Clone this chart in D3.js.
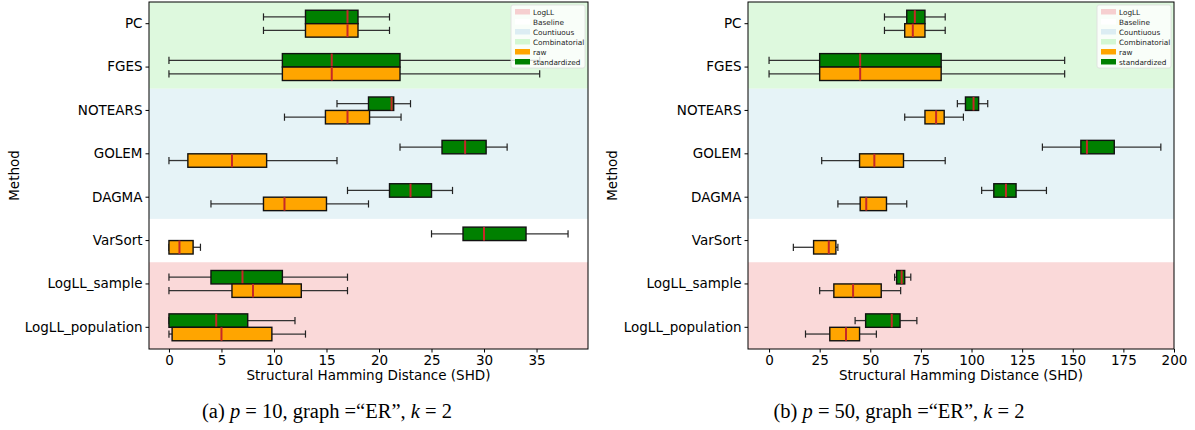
<!DOCTYPE html>
<html>
<head>
<meta charset="utf-8">
<script src="https://cdn.jsdelivr.net/npm/d3@7"></script>
<style>
  body { margin: 0; background: #fff; }
  svg text { font-family: "DejaVu Sans", sans-serif; }
  .cap { font-family: "Liberation Serif", serif; }
</style>
</head>
<body>
<script>
// Methods, top to bottom
const methods = ["PC", "FGES", "NOTEARS", "GOLEM", "DAGMA", "VarSort", "LogLL_sample", "LogLL_population"];

// box stats: [min, q1, median, q3, max]  (null = not drawn)
const p10Raw = [
  [9, 13, 17, 18, 21], [0, 10.8, 15.5, 22, 35.3], [11, 14.9, 17, 19.1, 22.1], [0, 1.8, 6, 9.3, 16],
  [4, 9, 11, 15, 19], [0, 0, 1, 2.3, 3], [0, 6, 8, 12.6, 17], [0, 0.3, 5, 9.8, 13]
];
const p10Std = [
  [9, 13, 17, 18, 21], [0, 10.8, 15.5, 22, 35.3], [16, 19, 21.2, 21.4, 23], [22, 26, 28.2, 30.2, 32.2],
  [17, 21, 23, 25, 27], [25, 28, 30, 34, 38], [0, 4, 7, 10.8, 17], [0, 0, 4.5, 7.5, 12]
];
const p50Raw = [
  [57, 67, 71, 77, 87], [0, 25, 45, 85, 146], [67, 77, 82.5, 86.5, 96], [26, 44.7, 52, 66.4, 87],
  [34, 45, 48, 58, 68], [12, 22, 29.5, 33, 34], [25, 32, 41.5, 55.4, 65], [18, 30, 38, 44.7, 53]
];
const p50Std = [
  [57, 68, 72, 77, 87], [0, 25, 45, 85, 146], [93, 97, 101, 103.5, 108], [135, 154, 157, 170.5, 193.5],
  [105, 111, 117, 122, 137], null, [62, 63, 65.5, 67, 70], [42.5, 47.7, 60.6, 64.7, 73]
];

const ticks10 = [0, 5, 10, 15, 20, 25, 30, 35];
const ticks50 = [0, 25, 50, 75, 100, 125, 150, 175, 200];

// background groups: [first method, last method, colour]
const groups = [
  ["PC", "FGES", "#def9de"],
  ["NOTEARS", "DAGMA", "#e6f3f7"],
  ["LogLL_sample", "LogLL_population", "#fad9d9"]
];
const legendItems = [
  ["LogLL", "#f6cfd0"], ["Baseline", "#ffffff"], ["Countiuous", "#dcedf3"],
  ["Combinatorial", "#d3f7d3"], ["raw", "#ffa500"], ["standardized", "#008000"]
];

const panels = [
  { left: 149, right: 588, xdom: [-1.9, 39.9], ticks: ticks10, raw: p10Raw, std: p10Std,
    ylab: 14, capX: 327, cap: ["(a) ", "p", " = 10, graph =“ER”, ", "k", " = 2"] },
  { left: 748, right: 1174, xdom: [-10.4, 200], ticks: ticks50, raw: p50Raw, std: p50Std,
    ylab: 612, capX: 899, cap: ["(b) ", "p", " = 50, graph =“ER”, ", "k", " = 2"] }
];

const topY = 2, bottomY = 349;
const svg = d3.select("body").append("svg").attr("width", 1195).attr("height", 430);

panels.forEach(p => {
  const x = d3.scaleLinear().domain(p.xdom).range([p.left, p.right]);
  const y = d3.scaleBand().domain(methods).range([topY, bottomY]);
  const bw = y.bandwidth();
  const g = svg.append("g");

  // group bands
  groups.forEach(gr => {
    g.append("rect")
      .attr("x", p.left).attr("width", p.right - p.left)
      .attr("y", y(gr[0])).attr("height", y(gr[1]) + bw - y(gr[0]))
      .attr("fill", gr[2]);
  });

  // boxes: standardized above, raw below
  const boxH = bw * 0.31, off = bw * 0.155;
  const series = [[p.std, "#008000", -off], [p.raw, "#ffa500", off]];
  series.forEach(([vals, col, dy]) => {
    vals.forEach((s, i) => {
      if (!s) return;
      const cy = y(methods[i]) + bw / 2 + dy;
      const bg = g.append("g");
      const wh = [[s[0], s[1]], [s[3], s[4]]];
      wh.forEach(w => {
        bg.append("line").attr("x1", x(w[0])).attr("x2", x(w[1]))
          .attr("y1", cy).attr("y2", cy).attr("stroke", "#333").attr("stroke-width", 1.3);
      });
      [s[0], s[4]].forEach(v => {
        bg.append("line").attr("x1", x(v)).attr("x2", x(v))
          .attr("y1", cy - 3.6).attr("y2", cy + 3.6).attr("stroke", "#222").attr("stroke-width", 1.2);
      });
      bg.append("rect").attr("x", x(s[1])).attr("width", x(s[3]) - x(s[1]))
        .attr("y", cy - boxH / 2).attr("height", boxH)
        .attr("fill", col).attr("stroke", "#111").attr("stroke-width", 1.4);
      bg.append("line").attr("x1", x(s[2])).attr("x2", x(s[2]))
        .attr("y1", cy - boxH / 2).attr("y2", cy + boxH / 2)
        .attr("stroke", "#c62828").attr("stroke-width", 2);
    });
  });

  // frame
  g.append("rect").attr("x", p.left).attr("y", topY)
    .attr("width", p.right - p.left).attr("height", bottomY - topY)
    .attr("fill", "none").attr("stroke", "#000").attr("stroke-width", 1);

  // axes
  const xa = g.append("g").attr("transform", `translate(0,${bottomY})`)
    .call(d3.axisBottom(x).tickValues(p.ticks).tickSize(3.5).tickPadding(3));
  xa.select(".domain").remove();
  xa.selectAll("text").attr("font-size", 13.5).attr("fill", "#000");
  const ya = g.append("g").attr("transform", `translate(${p.left},0)`)
    .call(d3.axisLeft(y).tickSize(3.5).tickPadding(3));
  ya.select(".domain").remove();
  ya.selectAll("text").attr("font-size", 13.5).attr("fill", "#000");

  g.append("text").attr("x", (p.left + p.right) / 2).attr("y", 380)
    .attr("text-anchor", "middle").attr("font-size", 13.5).text("Structural Hamming Distance (SHD)");
  g.append("text").attr("transform", `translate(${p.ylab + 5},${(topY + bottomY) / 2}) rotate(-90)`)
    .attr("text-anchor", "middle").attr("font-size", 13.5).text("Method");

  // legend
  const lx = p.right - 77, ly = 5;
  const lg = g.append("g").attr("transform", `translate(${lx},${ly})`);
  lg.append("rect").attr("width", 74).attr("height", 63).attr("rx", 2)
    .attr("fill", "#fff").attr("fill-opacity", 0.8).attr("stroke", "#ddd").attr("stroke-width", 0.8);
  legendItems.forEach((it, i) => {
    lg.append("rect").attr("x", 4).attr("y", 4 + i * 10).attr("width", 15).attr("height", 5.5).attr("fill", it[1]);
    lg.append("text").attr("x", 22).attr("y", 9.5 + i * 10).attr("font-size", 7.3).attr("fill", "#222").text(it[0]);
  });

  // caption
  const cap = svg.append("text").attr("class", "cap").attr("x", p.capX).attr("y", 418)
    .attr("text-anchor", "middle").attr("font-size", 20.5);
  p.cap.forEach((t, i) => {
    cap.append("tspan").attr("font-style", i % 2 === 1 ? "italic" : "normal").text(t);
  });
});
</script>
</body>
</html>
